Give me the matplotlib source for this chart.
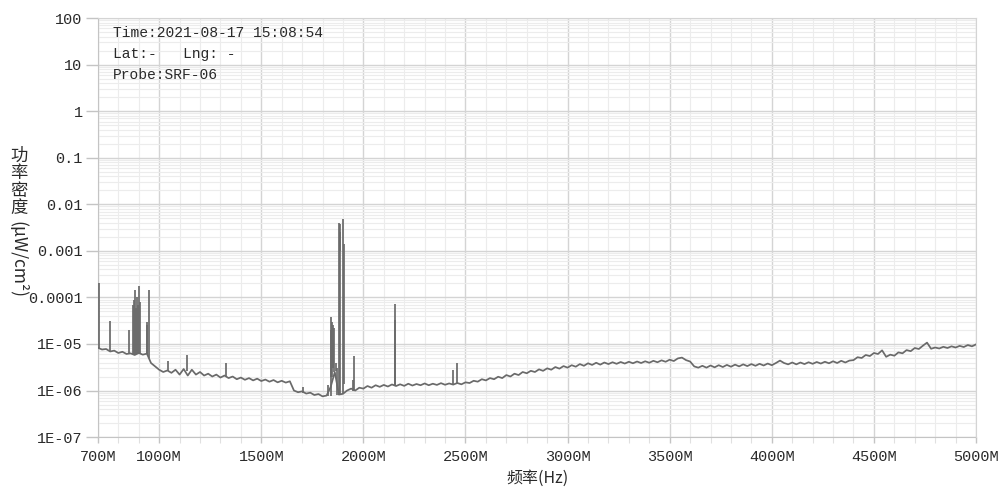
import matplotlib
matplotlib.use("Agg")
import matplotlib.pyplot as plt
from matplotlib.ticker import FixedLocator, NullFormatter
import numpy as np

# sweep grid, 20 MHz steps from 700M to 5000M
freq_mhz = np.arange(700, 5001, 20)
density = [
    8.3e-6, 7.6e-6, 7.8e-6, 6.9e-6, 7.2e-6, 6.4e-6, 6.8e-6, 6.1e-6, 6.3e-6, 5.8e-6,
    6.4e-6, 5.9e-6, 6.2e-6, 3.9e-6, 3.3e-6, 2.8e-6, 2.5e-6, 2.7e-6, 2.4e-6, 2.8e-6,
    2.2e-6, 2.9e-6, 2.1e-6, 2.8e-6, 2.2e-6, 2.5e-6, 2.1e-6, 2.3e-6, 2.0e-6, 2.2e-6,
    1.9e-6, 2.1e-6, 1.85e-6, 2.0e-6, 1.75e-6, 1.9e-6, 1.7e-6, 1.85e-6, 1.65e-6, 1.8e-6,
    1.6e-6, 1.72e-6, 1.55e-6, 1.68e-6, 1.5e-6, 1.62e-6, 1.48e-6, 1.58e-6, 1.0e-6, 9.2e-7,
    9.6e-7, 8.6e-7, 9.0e-7, 8.0e-7, 8.4e-7, 7.5e-7, 7.8e-7, 1.2e-6, 2.5e-6, 8.2e-7,
    8.5e-7, 1.0e-6, 1.1e-6, 1.0e-6, 1.15e-6, 1.1e-6, 1.25e-6, 1.15e-6, 1.3e-6, 1.2e-6,
    1.32e-6, 1.22e-6, 1.35e-6, 1.25e-6, 1.36e-6, 1.26e-6, 1.4e-6, 1.28e-6, 1.38e-6, 1.3e-6,
    1.42e-6, 1.3e-6, 1.4e-6, 1.32e-6, 1.44e-6, 1.33e-6, 1.42e-6, 1.34e-6, 1.45e-6, 1.36e-6,
    1.5e-6, 1.45e-6, 1.62e-6, 1.55e-6, 1.75e-6, 1.65e-6, 1.85e-6, 1.75e-6, 1.98e-6, 1.85e-6,
    2.15e-6, 2.0e-6, 2.3e-6, 2.15e-6, 2.5e-6, 2.35e-6, 2.65e-6, 2.5e-6, 2.85e-6, 2.65e-6,
    3.0e-6, 2.8e-6, 3.2e-6, 2.95e-6, 3.35e-6, 3.1e-6, 3.5e-6, 3.25e-6, 3.7e-6, 3.4e-6,
    3.85e-6, 3.55e-6, 3.95e-6, 3.6e-6, 4.0e-6, 3.7e-6, 4.05e-6, 3.75e-6, 4.1e-6, 3.8e-6,
    4.15e-6, 3.85e-6, 4.2e-6, 3.9e-6, 4.25e-6, 3.95e-6, 4.35e-6, 4.05e-6, 4.45e-6, 4.15e-6,
    4.6e-6, 4.3e-6, 4.9e-6, 5.1e-6, 4.5e-6, 4.2e-6, 3.3e-6, 3.1e-6, 3.4e-6, 3.1e-6,
    3.45e-6, 3.15e-6, 3.5e-6, 3.2e-6, 3.55e-6, 3.25e-6, 3.6e-6, 3.3e-6, 3.65e-6, 3.35e-6,
    3.7e-6, 3.4e-6, 3.75e-6, 3.45e-6, 3.8e-6, 3.5e-6, 3.9e-6, 4.4e-6, 3.9e-6, 3.65e-6,
    4.0e-6, 3.65e-6, 4.0e-6, 3.7e-6, 4.05e-6, 3.75e-6, 4.1e-6, 3.8e-6, 4.15e-6, 3.85e-6,
    4.25e-6, 3.9e-6, 4.35e-6, 4.0e-6, 4.4e-6, 4.5e-6, 5.2e-6, 5.0e-6, 5.8e-6, 5.5e-6,
    6.4e-6, 6.1e-6, 7.3e-6, 5.3e-6, 5.9e-6, 5.6e-6, 6.6e-6, 6.3e-6, 7.4e-6, 7.0e-6,
    8.2e-6, 7.8e-6, 9.2e-6, 1.07e-5, 7.9e-6, 8.4e-6, 8.0e-6, 8.7e-6, 8.2e-6, 8.9e-6,
    8.4e-6, 9.1e-6, 8.6e-6, 9.5e-6, 8.9e-6, 9.8e-6,
]

# narrow signals: frequency, foot level, peak level
sig_freq = [
    704, 759, 850, 872, 876, 881, 886, 893, 898, 902, 906, 938, 942, 948,
    1041, 1136, 1327, 1702,
    1828, 1839, 1842, 1845, 1849, 1853, 1856, 1867, 1871,
    1883, 1885, 1887, 1902, 1904,
    1948, 1955, 2154, 2156, 2440, 2459,
]
sig_foot = [
    8.3e-6, 7.0e-6, 6.2e-6, 6.0e-6, 6.0e-6, 6.0e-6, 6.0e-6, 6.2e-6, 6.2e-6, 6.3e-6, 6.3e-6, 6.0e-6, 6.0e-6, 5.0e-6,
    2.6e-6, 2.6e-6, 2.0e-6, 9.0e-7,
    7.6e-7, 7.6e-7, 2.0e-6, 2.0e-6, 3.0e-6, 3.0e-6, 2.5e-6, 2.6e-6, 8.0e-7,
    8.0e-7, 1.0e-3, 8.0e-7, 8.5e-7, 1.4e-6,
    1.0e-6, 1.0e-6, 1.25e-6, 1.25e-6, 1.34e-6, 1.4e-6,
]
sig_peak = [
    2.0e-4, 3.1e-5, 2.0e-5, 7.0e-5, 9.0e-5, 1.45e-4, 6.0e-5, 1.0e-4, 7.0e-5, 1.8e-4, 8.0e-5, 3.0e-5, 2.5e-5, 1.45e-4,
    4.4e-6, 5.7e-6, 4.0e-6, 1.2e-6,
    1.3e-6, 3.8e-5, 2.0e-5, 3.0e-5, 1.2e-5, 2.6e-5, 2.2e-5, 4.0e-6, 3.0e-6,
    4.0e-3, 2.5e-3, 3.8e-3, 4.8e-3, 1.4e-3,
    1.7e-6, 5.4e-6, 7.1e-5, 3.3e-5, 2.75e-6, 4.0e-6,
]

y_ticks = [1e2, 1e1, 1, 1e-1, 1e-2, 1e-3, 1e-4, 1e-5, 1e-6, 1e-7]
y_labels = ["100", "10", "1", "0.1", "0.01", "0.001", "0.0001", "1E-05", "1E-06", "1E-07"]
x_ticks = [700, 1000, 1500, 2000, 2500, 3000, 3500, 4000, 4500, 5000]
x_labels = ["700M", "1000M", "1500M", "2000M", "2500M", "3000M", "3500M", "4000M", "4500M", "5000M"]

info_lines = ["Time:2021-08-17 15:08:54", "Lat:-   Lng: -", "Probe:SRF-06"]

mono = ["Liberation Mono", "DejaVu Sans Mono"]
cjk = ["Noto Sans CJK SC", "DejaVu Sans"]
txt_col = "#2a2a2a"
line_col = "#6a6a6a"

fig = plt.figure(figsize=(9.99, 4.9), dpi=100)
ax = fig.add_axes([0.098, 0.108, 0.879, 0.855])
ax.set_yscale("log")
ax.set_xlim(700, 5000)
ax.set_ylim(1e-7, 1e2)

ax.plot(freq_mhz, density, color=line_col, linewidth=1.25, zorder=3)
ax.vlines(sig_freq, sig_foot, sig_peak, color=line_col, linewidth=1.25, zorder=3)

ax.yaxis.set_major_locator(FixedLocator(y_ticks))
ax.set_yticklabels(y_labels)
ax.yaxis.set_minor_locator(FixedLocator(
    [m * 10.0 ** e for e in range(-7, 2) for m in range(2, 10)]))
ax.yaxis.set_minor_formatter(NullFormatter())
ax.set_xticks(x_ticks)
ax.set_xticklabels(x_labels)
ax.xaxis.set_minor_locator(FixedLocator(range(700, 5001, 100)))

ax.grid(which="major", color="#d4d4d4", linewidth=1.0)
ax.grid(which="minor", color="#ececec", linewidth=0.8)
ax.set_axisbelow(True)

for s in ["top", "right"]:
    ax.spines[s].set_color("#d4d4d4")
for s in ["left", "bottom"]:
    ax.spines[s].set_color("#c4c4c4")
    ax.spines[s].set_zorder(1)
ax.tick_params(axis="y", which="major", length=8.5, width=1, pad=2.5,
               color="#c4c4c4", labelcolor=txt_col)
ax.tick_params(axis="x", which="major", length=4, width=1, pad=5,
               color="#c4c4c4", labelcolor=txt_col)
ax.tick_params(axis="x", which="minor", length=4, width=0.8, color="#e0e0e0")
ax.tick_params(axis="y", which="minor", length=0)
for lab in ax.get_xticklabels() + ax.get_yticklabels():
    lab.set_family(mono)
    lab.set_fontsize(11)

for i, line in enumerate(info_lines):
    fig.text(0.113, 0.933 - i * 0.043, line, family=mono, fontsize=10.5,
             color=txt_col, va="center", ha="left")

fig.text(0.538, 0.024, "频率(Hz)", family=cjk, fontsize=11.5, color=txt_col,
         ha="center", va="center")
fig.text(0.019, 0.70, "功\n率\n密\n度", family=cjk, fontsize=12.5, color=txt_col,
         ha="center", va="top", linespacing=0.95)
fig.text(0.018, 0.548, "(μW/cm²)", family=cjk, fontsize=12.5, color=txt_col,
         ha="center", va="top", rotation=-90)

fig.savefig("out.png", dpi=100)
